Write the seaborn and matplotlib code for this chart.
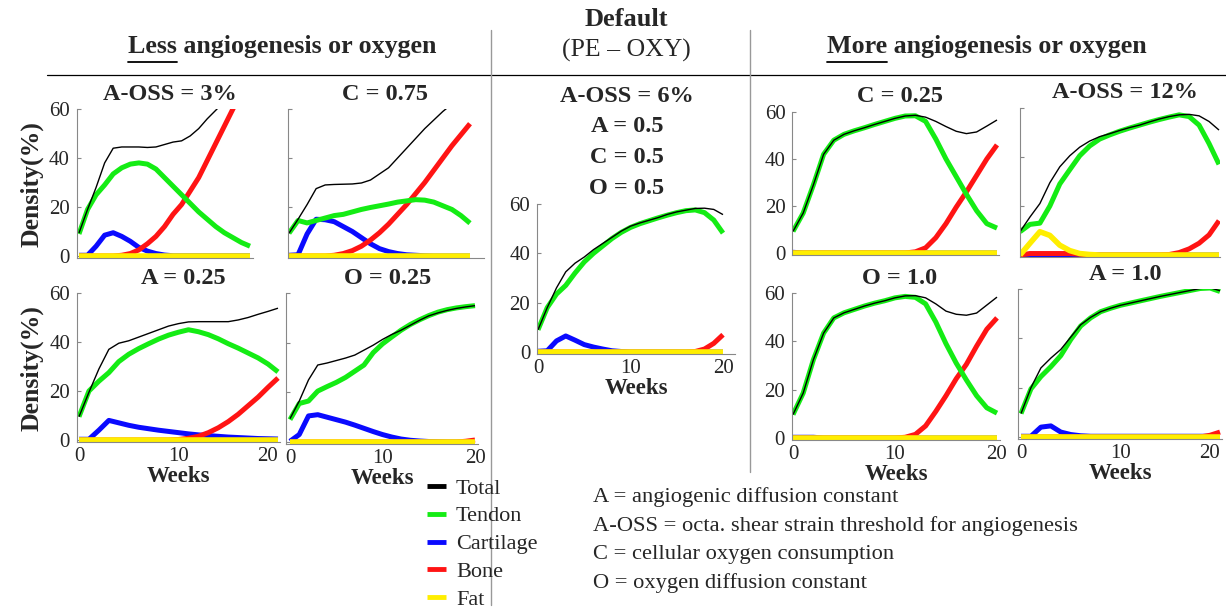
import matplotlib
matplotlib.use("Agg")
import matplotlib.pyplot as plt
import matplotlib.transforms as mtrans
import seaborn as sns
from matplotlib.lines import Line2D

# Weeks sampled for every panel
weeks = [0, 1, 2, 3, 4, 5, 6, 7, 8, 9, 10, 11, 12, 13, 14, 15, 16, 17, 18, 19, 20]
fat_flat = [0, 0, 0, 0, 0, 0, 0, 0, 0, 0, 0, 0, 0, 0, 0, 0, 0, 0, 0, 0, 0]

# A-OSS = 3%
aoss3_total = [9.4, 19, 28, 38, 44, 44.5, 44.5, 44.5, 44.3, 44.5, 45.5, 46.5, 47, 49, 52, 56, 59.5, 63, 66, 69, 72]
aoss3_tendon = [9, 19, 25, 29, 33.5, 36, 37.5, 38, 37.5, 35.5, 32, 28.5, 25, 21.5, 18, 15, 12, 9.5, 7.5, 5.5, 4]
aoss3_cart = [0.3, 0.3, 4, 8.5, 9.5, 8, 6, 3.5, 2, 1, 0.4, 0.1, 0.1, 0.1, 0.1, 0.1, 0.1, 0.1, 0.1, 0.1, 0.1]
aoss3_bone = [0, 0, 0, 0, 0, 0.3, 1, 2.5, 5, 8, 12, 17, 21, 26.5, 32, 39, 46, 53, 60, 67, 74]

# C = 0.75
c075_total = [9.3, 15, 21, 27.5, 29, 29.2, 29.3, 29.4, 29.8, 31, 33.5, 36, 40, 44, 48, 52, 55.5, 59, 62, 65, 68]
c075_tendon = [9.3, 14.5, 13.5, 14.5, 15.5, 16.5, 17, 18, 19, 19.8, 20.5, 21.2, 22, 22.5, 23, 22.8, 22, 20.5, 19, 16.5, 13.4]
c075_cart = [0.3, 0.5, 9, 15, 14.8, 14, 12, 10, 7.5, 5, 3, 1.8, 1, 0.5, 0.3, 0.1, 0, 0, 0, 0, 0]
c075_bone = [0, 0, 0, 0, 0, 0.3, 1, 2.2, 4, 6.5, 9.5, 13, 17, 21, 25.5, 30, 35, 40, 45, 49.5, 54]

# A = 0.25
a025_total = [9.5, 19.5, 29, 37, 39.5, 40.5, 42, 43.5, 45, 46.5, 47.5, 48.2, 48.3, 48.3, 48.3, 48.3, 49, 50, 51.3, 52.5, 53.8]
a025_tendon = [9.5, 20, 24, 27.5, 32, 35, 37.3, 39.3, 41.2, 42.8, 44, 45, 44.2, 43, 41.3, 39.3, 37.5, 35.5, 33.5, 31, 27.8]
a025_cart = [0.3, 0.3, 4, 8, 7, 6, 5.2, 4.6, 4, 3.5, 3, 2.5, 2.1, 1.8, 1.5, 1.2, 1, 0.8, 0.6, 0.5, 0.4]
a025_bone = [0, 0, 0, 0, 0, 0, 0, 0, 0, 0, 0.2, 0.7, 1.5, 3, 5, 7.5, 10.5, 14, 17.5, 21.5, 25.3]

# O = 0.25
o025_total = [9.4, 16.5, 25, 31, 31.8, 32.8, 33.8, 35, 37, 39, 41.3, 43.3, 45, 47, 49, 50.8, 52, 53, 53.8, 54.4, 54.9]
o025_tendon = [9, 15.5, 16.5, 20.5, 22.3, 24, 26, 28.5, 31, 36, 39.5, 42.3, 45, 47.3, 49.2, 50.9, 52.3, 53.3, 54, 54.5, 54.9]
o025_cart = [0.3, 3, 10.5, 11, 10, 9, 8, 6.8, 5.5, 4.2, 3, 2, 1.2, 0.7, 0.4, 0.2, 0.1, 0, 0, 0, 0]
o025_bone = [0, 0, 0, 0, 0, 0, 0, 0, 0, 0, 0, 0, 0, 0, 0, 0, 0, 0, 0, 0.3, 0.8]

# Default (PE - OXY)
dflt_total = [9, 18, 26, 32.5, 36, 38.5, 41.5, 44, 46.5, 49, 51, 52.3, 53.4, 54.5, 55.8, 56.8, 57.5, 58.2, 58.3, 57.8, 55.7]
dflt_tendon = [9, 18, 23.5, 27, 32, 36.5, 40, 43, 46, 48.5, 50.5, 52, 53.2, 54.4, 55.5, 56.5, 57.3, 57.6, 56.5, 53.5, 48.2]
dflt_cart = [0.3, 0.5, 4.5, 6.5, 4.8, 3, 2, 1.2, 0.5, 0.2, 0, 0, 0, 0, 0, 0, 0, 0, 0, 0, 0]
dflt_bone = [0, 0, 0, 0, 0, 0, 0, 0, 0, 0, 0, 0, 0, 0, 0, 0, 0, 0.2, 1.2, 3.5, 7]

# C = 0.25
c025_total = [9.2, 17, 29, 42, 48, 50.5, 52, 53.3, 54.7, 56, 57.3, 58.3, 58.6, 57.8, 56, 53.8, 51.8, 50.8, 51.5, 54, 56.6]
c025_tendon = [9.2, 17, 29, 42, 48, 50.5, 52, 53.3, 54.7, 56, 57.3, 58.3, 58.4, 56, 48.5, 40, 32.5, 25, 18, 12.5, 10.6]
c025_cart = [0.3, 0, 0, 0, 0, 0, 0, 0, 0, 0, 0, 0, 0, 0, 0, 0, 0, 0, 0, 0, 0]
c025_bone = [0, 0, 0, 0, 0, 0, 0, 0, 0, 0, 0, 0, 0.5, 2.2, 6.5, 12.5, 19.5, 26, 33, 40, 46]

# A-OSS = 12%
aoss12_total = [9.5, 15.5, 21, 29.5, 36, 40.5, 44, 46.5, 48.3, 49.5, 50.8, 52, 53, 54.3, 55.5, 56.5, 57.2, 57.4, 56.8, 54.5, 51]
aoss12_tendon = [9.5, 12.5, 13, 20, 29, 34.8, 40.5, 44.5, 47.3, 49, 50.5, 51.8, 53, 54.2, 55.3, 56.3, 57.2, 56.5, 53, 45.5, 37]
aoss12_cart = [0.3, 0, 0, 0, 0, 0, 0, 0, 0, 0, 0, 0, 0, 0, 0, 0, 0, 0, 0, 0, 0]
aoss12_bone = [0, 0.6, 0.6, 0.6, 0.6, 0.6, 0.3, 0, 0, 0, 0, 0, 0, 0, 0, 0.2, 1, 2.5, 4.8, 8.2, 14]
aoss12_fat = [0, 4.8, 9.5, 8, 4, 1.8, 0.6, 0.2, 0, 0, 0, 0, 0, 0, 0, 0, 0, 0, 0, 0, 0]

# O = 1.0
o10_total = [9.7, 18.6, 32.4, 43.4, 49.7, 51.8, 53.2, 54.6, 55.8, 56.8, 58, 58.8, 58.9, 58, 55.5, 52.5, 51.2, 50.8, 51.7, 55, 58.3]
o10_tendon = [9.7, 18.6, 32.4, 43.4, 49.7, 51.8, 53.2, 54.6, 55.8, 56.8, 58, 58.6, 58.2, 55.5, 48, 39, 31, 24, 17.5, 12.5, 10.3]
o10_cart = [0.3, 0.3, 0.3, 0, 0, 0, 0, 0, 0, 0, 0, 0, 0, 0, 0, 0, 0, 0, 0, 0, 0]
o10_bone = [0, 0, 0, 0, 0, 0, 0, 0, 0, 0, 0, 0.3, 1.5, 5, 11, 17.5, 24.5, 30.5, 38, 45, 49.7]

# A = 1.0
a10_total = [9.5, 20, 28, 32, 35.5, 40.5, 45.5, 48.5, 50.8, 52.2, 53.4, 54.3, 55.2, 56.1, 57, 57.8, 58.6, 59.4, 60.2, 60.5, 59.3]
a10_tendon = [9.5, 19.5, 24.5, 28.5, 33, 39.5, 45, 48.3, 50.8, 52.2, 53.4, 54.3, 55.2, 56.1, 57, 57.8, 58.6, 59.4, 60.2, 60.4, 59]
a10_cart = [0.3, 0.3, 4, 4.5, 2, 1, 0.5, 0.3, 0.3, 0.3, 0.3, 0.3, 0.3, 0.3, 0.3, 0.3, 0.3, 0.3, 0.3, 0.3, 0.3]
a10_bone = [0, 0, 0, 0, 0, 0, 0, 0, 0, 0, 0, 0, 0, 0, 0, 0, 0, 0, 0, 0.7, 2]

tissues = ["Total", "Tendon", "Cartilage", "Bone", "Fat"]
colors = {"Total": "black", "Tendon": "#14ec14", "Cartilage": "#0a0aff",
          "Bone": "#ff1414", "Fat": "#ffee00"}
widths = {"Total": 1.0, "Tendon": 3.6, "Cartilage": 3.6, "Bone": 3.6, "Fat": 4.0}
draw_order = ["Cartilage", "Bone", "Fat", "Tendon", "Total"]

sns.set_theme(style="white")
plt.rcParams["font.family"] = ["Liberation Serif", "DejaVu Serif"]

W, H = 1226, 613
fig = plt.figure(figsize=(W / 100, H / 100), dpi=100)


def rect(x0, x20, y0, y60, xlim, ylim):
    sx = (x20 - x0) / 20
    sy = (y0 - y60) / 60
    left = x0 + xlim[0] * sx
    right = x0 + xlim[1] * sx
    bottom = y0 - ylim[0] * sy
    top = y0 - ylim[1] * sy
    return [left / W, 1 - bottom / H, (right - left) / W, (bottom - top) / H]


def ftext(x, y, s, **kw):
    return fig.text(x / W, 1 - y / H, s, **kw)


# title, series, pixel anchors (x0, x20, y0, y60), xlim, y labels, x labels, ylabel, shift of "20" label
panels = [
    ("A-OSS = 3%", [aoss3_total, aoss3_tendon, aoss3_cart, aoss3_bone, fat_flat],
     (79, 250, 256, 109), (-0.25, 20.3), True, False, True, 0),
    ("C = 0.75", [c075_total, c075_tendon, c075_cart, c075_bone, fat_flat],
     (289, 470, 256, 109), (-0.1, 21.6), False, False, False, 0),
    ("A = 0.25", [a025_total, a025_tendon, a025_cart, a025_bone, fat_flat],
     (79, 278, 440, 293), (-0.2, 20.2), True, True, True, -11),
    ("O = 0.25", [o025_total, o025_tendon, o025_cart, o025_bone, fat_flat],
     (290, 475, 442, 293), (-0.4, 20.3), False, True, False, 0),
    ("", [dflt_total, dflt_tendon, dflt_cart, dflt_bone, fat_flat],
     (538, 723, 352, 204), (-0.1, 21.3), True, True, False, 0),
    ("C = 0.25", [c025_total, c025_tendon, c025_cart, c025_bone, fat_flat],
     (793, 997, 253, 112), (-0.05, 20.2), True, False, False, 0),
    ("A-OSS = 12%", [aoss12_total, aoss12_tendon, aoss12_cart, aoss12_bone, aoss12_fat],
     (1020, 1219, 255, 108), (-0.05, 20.1), False, False, False, 0),
    ("O = 1.0", [o10_total, o10_tendon, o10_cart, o10_bone, fat_flat],
     (793, 997, 438, 293), (-0.1, 20.3), True, True, False, 0),
    ("A = 1.0", [a10_total, a10_tendon, a10_cart, a10_bone, fat_flat],
     (1021, 1220, 437, 289), (-0.3, 20.2), False, True, False, -11),
]

ylim = (-1, 60)
for title, series, (x0, x20, y0, y60), xlim, ylab, xlab, dens, shift in panels:
    ax = fig.add_axes(rect(x0, x20, y0, y60, xlim, ylim))
    values = dict(zip(tissues, series))
    for t in draw_order:
        sns.lineplot(x=weeks, y=values[t], color=colors[t], linewidth=widths[t],
                     ax=ax, solid_capstyle="butt")
    ax.set_xlim(xlim)
    ax.set_ylim(ylim)
    ax.set_xticks([0, 10, 20])
    ax.set_yticks([0, 20, 40, 60])
    ax.tick_params(axis="y", direction="in", length=3, width=0.8, color="#888888",
                   left=True, labelleft=ylab, labelsize=15, pad=5)
    ax.tick_params(axis="x", direction="in", length=0, bottom=xlab,
                   labelbottom=xlab, labelsize=15, pad=3)
    for s in ["top", "right"]:
        ax.spines[s].set_visible(False)
    for s in ["left", "bottom"]:
        ax.spines[s].set_color("#888888")
        ax.spines[s].set_linewidth(0.8)
    ax.set_facecolor("none")
    if shift:
        lab = ax.get_xticklabels()[-1]
        lab.set_transform(lab.get_transform() +
                          mtrans.ScaledTranslation(shift / 100, 0, fig.dpi_scale_trans))
    if xlab:
        ax.set_xlabel("Weeks", fontsize=16.5, fontweight="bold", labelpad=0)
    if dens:
        ax.set_ylabel("Density(%)", fontsize=18.5, fontweight="bold", labelpad=4)
    if title:
        cx = (x0 + x20) / 2 + 5
        ftext(cx, y60 - 15, title, fontsize=17.5, fontweight="bold", ha="center", va="center")

# Default panel title block
for i, s in enumerate(["A-OSS = 6%", "A = 0.5", "C = 0.5", "O = 0.5"]):
    ftext(627, 96 + i * 30.7, s, fontsize=17.5, fontweight="bold", ha="center", va="center")

# Group headers
hdr = dict(fontsize=18.7, fontweight="bold", va="center")
ftext(128, 47, "Less angiogenesis or oxygen", **hdr)
ftext(827, 47, "More angiogenesis or oxygen", **hdr)
less_w = ftext(128, 47, "Less", alpha=0, **hdr)
more_w = ftext(827, 47, "More", alpha=0, **hdr)
ftext(626, 20, "Default", fontsize=19, fontweight="bold", ha="center", va="center")
ftext(626, 50, "(PE \u2013 OXY)", fontsize=18.5, ha="center", va="center")

fig.canvas.draw()
renderer = fig.canvas.get_renderer()
for w in [less_w, more_w]:
    bb = w.get_window_extent(renderer).transformed(fig.transFigure.inverted())
    fig.add_artist(Line2D([bb.x0, bb.x1], [1 - 62 / H, 1 - 62 / H], color="black", lw=1.3))

# separators
fig.add_artist(Line2D([47 / W, 1], [1 - 75 / H, 1 - 75 / H], color="black", lw=0.9))
fig.add_artist(Line2D([491 / W, 491 / W], [1 - 30 / H, 1 - 605 / H], color="#999999", lw=1.0))
fig.add_artist(Line2D([750 / W, 750 / W], [1 - 30 / H, 1 - 472 / H], color="#999999", lw=1.0))

# legend
handles = [Line2D([], [], color=colors[t], lw=3.5, solid_capstyle="butt") for t in tissues]
fig.legend(handles, tissues, loc="upper left", bbox_to_anchor=(427 / W, 1 - 478 / H),
           frameon=False, fontsize=16, handlelength=0.85, handletextpad=0.45,
           labelspacing=0.33, borderpad=0, borderaxespad=0)

# definitions
notes = ["A = angiogenic diffusion constant",
         "A-OSS = octa. shear strain threshold for angiogenesis",
         "C = cellular oxygen consumption",
         "O = oxygen diffusion constant"]
for i, s in enumerate(notes):
    ftext(593, 497 + i * 28.7, s, fontsize=16.2, va="center")

fig.savefig("out.png", dpi=100)
